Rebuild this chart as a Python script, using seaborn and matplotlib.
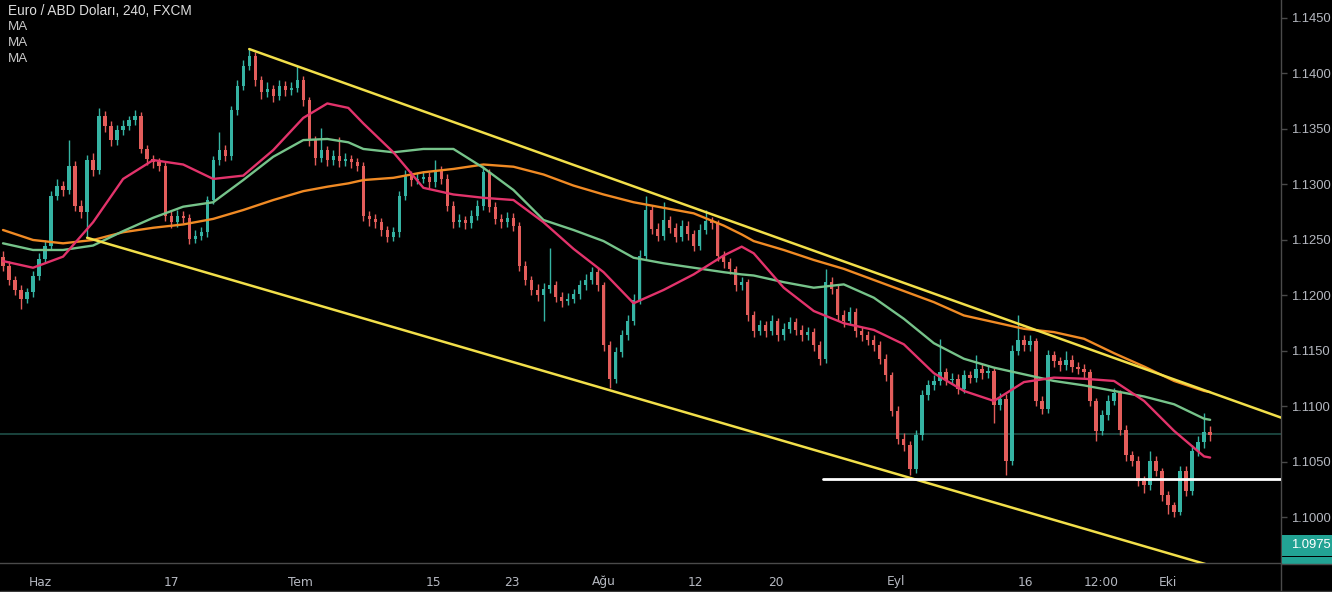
import numpy as np
import pandas as pd
import matplotlib
matplotlib.use("Agg")
import matplotlib.pyplot as plt
from matplotlib.patches import Rectangle
import seaborn as sns

# ---------------- data ----------------
title = "Euro / ABD Doları, 240, FXCM"
legend_labels = ["MA", "MA", "MA"]

first_open = 1.1235
close = [
    1.1227, 1.1214, 1.1205, 1.1197, 1.1203, 1.1218, 1.1233, 1.1245, 1.1290, 1.1299,
    1.1295, 1.1317, 1.1281, 1.1275, 1.1322, 1.1313, 1.1362, 1.1353, 1.1340, 1.1349,
    1.1353, 1.1358, 1.1362, 1.1332, 1.1323, 1.1320, 1.1317, 1.1272, 1.1266, 1.1272,
    1.1270, 1.1251, 1.1254, 1.1257, 1.1286, 1.1322, 1.1331, 1.1326, 1.1367, 1.1389,
    1.1407, 1.1416, 1.1394, 1.1383, 1.1386, 1.1380, 1.1389, 1.1385, 1.1387, 1.1394,
    1.1376, 1.1340, 1.1324, 1.1331, 1.1322, 1.1326, 1.1321, 1.1323, 1.1320, 1.1317,
    1.1272, 1.1269, 1.1266, 1.1259, 1.1253, 1.1257, 1.1290, 1.1308, 1.1304, 1.1305,
    1.1307, 1.1302, 1.1313, 1.1305, 1.1281, 1.1266, 1.1268, 1.1265, 1.1272, 1.1281,
    1.1311, 1.1280, 1.1269, 1.1266, 1.1270, 1.1263, 1.1227, 1.1214, 1.1205, 1.1200,
    1.1206, 1.1209, 1.1199, 1.1195, 1.1197, 1.1201, 1.1209, 1.1214, 1.1221, 1.1209,
    1.1155, 1.1125, 1.1149, 1.1164, 1.1177, 1.1196, 1.1236, 1.1277, 1.1260, 1.1254,
    1.1268, 1.1261, 1.1253, 1.1263, 1.1255, 1.1245, 1.1259, 1.1267, 1.1265, 1.1236,
    1.1230, 1.1224, 1.1209, 1.1212, 1.1182, 1.1168, 1.1173, 1.1168, 1.1177, 1.1164,
    1.1170, 1.1176, 1.1169, 1.1164, 1.1167, 1.1155, 1.1143, 1.1212, 1.1206, 1.1182,
    1.1177, 1.1185, 1.1168, 1.1164, 1.1160, 1.1155, 1.1143, 1.1128, 1.1096, 1.1071,
    1.1065, 1.1044, 1.1074, 1.1110, 1.1119, 1.1123, 1.1131, 1.1124, 1.1125, 1.1116,
    1.1128, 1.1126, 1.1134, 1.1130, 1.1132, 1.1101, 1.1107, 1.1051, 1.1150, 1.1160,
    1.1155, 1.1159, 1.1105, 1.1098, 1.1146, 1.1141, 1.1137, 1.1142, 1.1136, 1.1134,
    1.1131, 1.1105, 1.1078, 1.1092, 1.1105, 1.1112, 1.1079, 1.1056, 1.1051, 1.1033,
    1.1029, 1.1051, 1.1042, 1.1020, 1.1011, 1.1005, 1.1042, 1.1024, 1.1060, 1.1068,
    1.1077, 1.1074,
]
high = [
    1.1240, 1.1231, 1.1218, 1.1209, 1.1207, 1.1222, 1.1238, 1.1250, 1.1294, 1.1305,
    1.1303, 1.1340, 1.1321, 1.1286, 1.1327, 1.1328, 1.1369, 1.1366, 1.1357, 1.1354,
    1.1358, 1.1362, 1.1367, 1.1365, 1.1336, 1.1327, 1.1324, 1.1320, 1.1276, 1.1277,
    1.1276, 1.1273, 1.1259, 1.1262, 1.1290, 1.1326, 1.1347, 1.1336, 1.1371, 1.1394,
    1.1412, 1.1423, 1.1419, 1.1398, 1.1392, 1.1390, 1.1394, 1.1393, 1.1392, 1.1407,
    1.1398, 1.1379, 1.1344, 1.1351, 1.1335, 1.1331, 1.1343, 1.1328, 1.1327, 1.1324,
    1.1320, 1.1276, 1.1273, 1.1270, 1.1263, 1.1262, 1.1294, 1.1313, 1.1312, 1.1310,
    1.1312, 1.1311, 1.1322, 1.1317, 1.1309, 1.1285, 1.1273, 1.1272, 1.1277, 1.1286,
    1.1317, 1.1314, 1.1284, 1.1273, 1.1275, 1.1274, 1.1266, 1.1231, 1.1218, 1.1210,
    1.1211, 1.1243, 1.1213, 1.1203, 1.1202, 1.1206, 1.1214, 1.1219, 1.1226, 1.1225,
    1.1212, 1.1159, 1.1154, 1.1169, 1.1182, 1.1201, 1.1241, 1.1290, 1.1281, 1.1265,
    1.1284, 1.1272, 1.1265, 1.1268, 1.1267, 1.1259, 1.1264, 1.1277, 1.1271, 1.1268,
    1.1240, 1.1234, 1.1227, 1.1217, 1.1215, 1.1186, 1.1178, 1.1177, 1.1182, 1.1180,
    1.1175, 1.1181, 1.1180, 1.1173, 1.1172, 1.1171, 1.1159, 1.1224, 1.1217, 1.1210,
    1.1187, 1.1190, 1.1189, 1.1172, 1.1168, 1.1164, 1.1159, 1.1147, 1.1131, 1.1100,
    1.1076, 1.1069, 1.1079, 1.1115, 1.1124, 1.1128, 1.1161, 1.1135, 1.1130, 1.1129,
    1.1133, 1.1132, 1.1146, 1.1138, 1.1137, 1.1135, 1.1112, 1.1111, 1.1155, 1.1182,
    1.1164, 1.1164, 1.1162, 1.1109, 1.1151, 1.1150, 1.1145, 1.1150, 1.1146, 1.1140,
    1.1138, 1.1134, 1.1108, 1.1097, 1.1110, 1.1117, 1.1115, 1.1083, 1.1060, 1.1055,
    1.1037, 1.1060, 1.1055, 1.1045, 1.1024, 1.1014, 1.1046, 1.1046, 1.1065, 1.1073,
    1.1094, 1.1082,
]
low = [
    1.1222, 1.1209, 1.1200, 1.1188, 1.1193, 1.1199, 1.1214, 1.1229, 1.1241, 1.1286,
    1.1290, 1.1291, 1.1276, 1.1270, 1.1252, 1.1308, 1.1309, 1.1347, 1.1335, 1.1336,
    1.1345, 1.1349, 1.1354, 1.1328, 1.1318, 1.1315, 1.1312, 1.1267, 1.1261, 1.1262,
    1.1265, 1.1246, 1.1247, 1.1250, 1.1253, 1.1282, 1.1318, 1.1321, 1.1322, 1.1363,
    1.1385, 1.1403, 1.1389, 1.1377, 1.1379, 1.1374, 1.1376, 1.1380, 1.1381, 1.1383,
    1.1371, 1.1335, 1.1318, 1.1320, 1.1317, 1.1318, 1.1316, 1.1317, 1.1315, 1.1312,
    1.1267, 1.1263, 1.1261, 1.1254, 1.1248, 1.1249, 1.1253, 1.1286, 1.1299, 1.1300,
    1.1301, 1.1297, 1.1298, 1.1300, 1.1276, 1.1261, 1.1262, 1.1260, 1.1261, 1.1268,
    1.1277, 1.1275, 1.1264, 1.1261, 1.1262, 1.1258, 1.1222, 1.1209, 1.1200, 1.1195,
    1.1177, 1.1202, 1.1194, 1.1190, 1.1191, 1.1193, 1.1197, 1.1205, 1.1210, 1.1204,
    1.1150, 1.1117, 1.1121, 1.1145, 1.1160, 1.1173, 1.1192, 1.1232, 1.1255, 1.1249,
    1.1250, 1.1256, 1.1248, 1.1249, 1.1250, 1.1240, 1.1241, 1.1255, 1.1260, 1.1231,
    1.1225, 1.1219, 1.1204, 1.1205, 1.1177, 1.1163, 1.1164, 1.1163, 1.1164, 1.1159,
    1.1160, 1.1166, 1.1164, 1.1159, 1.1160, 1.1150, 1.1137, 1.1139, 1.1201, 1.1177,
    1.1172, 1.1173, 1.1163, 1.1159, 1.1155, 1.1150, 1.1138, 1.1123, 1.1091, 1.1066,
    1.1060, 1.1038, 1.1040, 1.1070, 1.1106, 1.1115, 1.1119, 1.1119, 1.1120, 1.1111,
    1.1112, 1.1121, 1.1122, 1.1125, 1.1126, 1.1085, 1.1097, 1.1038, 1.1047, 1.1146,
    1.1150, 1.1150, 1.1100, 1.1093, 1.1094, 1.1136, 1.1132, 1.1133, 1.1131, 1.1129,
    1.1126, 1.1100, 1.1069, 1.1074, 1.1088, 1.1101, 1.1074, 1.1051, 1.1046, 1.1028,
    1.1022, 1.1025, 1.1037, 1.1015, 1.1003, 1.1000, 1.1002, 1.1019, 1.1020, 1.1055,
    1.1063, 1.1069,
]

# moving averages at these candle indices
ma_idx = [0, 5, 10, 15, 20, 25, 30, 35, 40, 45,
          50, 54, 57.5, 60, 65, 70, 75, 80, 85, 90,
          95, 100, 105, 110, 115, 120, 123, 125, 130, 135,
          140, 145, 150, 155, 160, 165, 170, 175, 180, 185,
          190, 195, 200, 201]
ma_fast = [1.1231, 1.1225, 1.1235, 1.1266, 1.1305, 1.1322, 1.1318, 1.1305, 1.1308, 1.1331,
           1.1360, 1.1373, 1.1369, 1.1355, 1.1329, 1.1297, 1.1291, 1.1288, 1.1286, 1.1266,
           1.1242, 1.1221, 1.1193, 1.1205, 1.1219, 1.1236, 1.1244, 1.1238, 1.1207, 1.1186,
           1.1175, 1.1169, 1.1156, 1.1130, 1.1114, 1.1105, 1.1122, 1.1126, 1.1125, 1.1123,
           1.1105, 1.1078, 1.1055, 1.1054]
ma_mid = [1.1247, 1.1241, 1.1241, 1.1245, 1.1258, 1.1270, 1.1280, 1.1284, 1.1304, 1.1325,
          1.1340, 1.1341, 1.1338, 1.1332, 1.1329, 1.1332, 1.1332, 1.1315, 1.1295, 1.1268,
          1.1259, 1.1249, 1.1234, 1.1229, 1.1225, 1.1221, 1.1219, 1.1218, 1.1212, 1.1207,
          1.1210, 1.1198, 1.1179, 1.1157, 1.1143, 1.1135, 1.1129, 1.1123, 1.1119, 1.1114,
          1.1109, 1.1102, 1.1089, 1.1088]
ma_slow = [1.1259, 1.1250, 1.1247, 1.1250, 1.1257, 1.1261, 1.1264, 1.1269, 1.1277, 1.1286,
           1.1294, 1.1298, 1.1301, 1.1304, 1.1306, 1.1311, 1.1314, 1.1318, 1.1316, 1.1309,
           1.1299, 1.1291, 1.1284, 1.1279, 1.1274, 1.1263, 1.1255, 1.1249, 1.1241, 1.1232,
           1.1224, 1.1214, 1.1204, 1.1194, 1.1182, 1.1176, 1.1170, 1.1167, 1.1161, 1.1148,
           1.1136, 1.1123, 1.1114, 1.1113]

# drawn trend lines (candle index, price)
upper_trend_x = [41, 212.8]
upper_trend_y = [1.1422, 1.1090]
lower_trend_x = [14, 201.5]
lower_trend_y = [1.1252, 1.0956]
support_x = [136.5, 212.8]
support_y = [1.1035, 1.1035]

last_price = 1.1075
tag_price = 1.0975
tag_text = "1.0975"
timer_text = "02:25:21"

xtick_pos = [6.2, 28, 49.5, 71.7, 84.7, 100, 115.3, 128.7, 148.7, 170.2, 182.8, 194]
xtick_labels = ["Haz", "17", "Tem", "15", "23", "Ağu", "12", "20", "Eyl", "16", "12:00", "Eki"]
ytick_vals = [1.1000, 1.1050, 1.1100, 1.1150, 1.1200, 1.1250, 1.1300, 1.1350, 1.1400, 1.1450]

# ---------------- style ----------------
sns.set_theme(style="dark", rc={
    "axes.facecolor": "black", "figure.facecolor": "black",
    "axes.grid": False, "savefig.facecolor": "black",
})
plt.rcParams["font.family"] = ["Liberation Sans", "DejaVu Sans"]

UP = "#35b3a3"
DOWN = "#e35d5b"
TXT = "#b5b8c0"
AXC = "#4a4a4a"

fig = plt.figure(figsize=(13.32, 5.92), dpi=100)
ax = fig.add_axes([0, 29 / 592, 1281 / 1332, 563 / 592])
ax.set_facecolor("black")

df = pd.DataFrame({"close": close, "high": high, "low": low})
df["open"] = [first_open] + close[:-1]
df["idx"] = np.arange(len(df))
df["top"] = df[["open", "close"]].max(axis=1)
df["bot"] = df[["open", "close"]].min(axis=1)
df["high"] = np.maximum(df["high"], df["top"])
df["low"] = np.minimum(df["low"], df["bot"])
df["up"] = df["close"] >= df["open"]
colors = np.where(df["up"], UP, DOWN)

# current price line
ax.axhline(last_price, color="#1f4f47", lw=1.2, zorder=1)

# candles
ax.vlines(df["idx"], df["low"], df["high"], colors=colors, lw=1.0, zorder=3)
ax.bar(df["idx"], np.maximum(df["top"] - df["bot"], 0.00006), bottom=df["bot"],
       width=0.55, color=colors, linewidth=0, zorder=3)

# moving averages
ma_df = pd.DataFrame({"idx": ma_idx, "fast": ma_fast, "mid": ma_mid, "slow": ma_slow})
sns.lineplot(data=ma_df, x="idx", y="slow", color="#f08a24", lw=1.7, ax=ax, zorder=4)
sns.lineplot(data=ma_df, x="idx", y="mid", color="#76c38a", lw=1.7, ax=ax, zorder=4)
sns.lineplot(data=ma_df, x="idx", y="fast", color="#e2336b", lw=1.7, ax=ax, zorder=4)

# trend lines
sns.lineplot(x=upper_trend_x, y=upper_trend_y, color="#f2df4a", lw=1.8, ax=ax, zorder=5)
sns.lineplot(x=lower_trend_x, y=lower_trend_y, color="#f2df4a", lw=1.8, ax=ax, zorder=5)
sns.lineplot(x=support_x, y=support_y, color="#ffffff", lw=2.0, ax=ax, zorder=5)

ax.set_xlim(-0.5, 212.8)
ax.set_ylim(1.0959, 1.14662)
ax.set_xlabel("")
ax.set_ylabel("")

# axes styling
for s in ["top", "left"]:
    ax.spines[s].set_visible(False)
for s in ["right", "bottom"]:
    ax.spines[s].set_color(AXC)
    ax.spines[s].set_linewidth(1.0)

ax.yaxis.tick_right()
ax.set_yticks(ytick_vals)
ax.set_yticklabels([f"{v:.4f}" for v in ytick_vals])
ax.tick_params(axis="y", colors=AXC, labelcolor=TXT, length=4, width=1, pad=3,
               labelsize=9.4, direction="out")
ax.set_xticks(xtick_pos)
ax.set_xticklabels(xtick_labels, family=["Liberation Sans Narrow", "DejaVu Sans"])
ax.tick_params(axis="x", colors=AXC, labelcolor=TXT, length=3, width=1, pad=6,
               labelsize=8.8, direction="out")

# price tag + timer on the right scale
ytr = ax.get_yaxis_transform()
ax.add_patch(Rectangle((1.0005, tag_price - 0.00095), 0.06, 0.0019, transform=ytr,
                       facecolor="#22a394", edgecolor="none", clip_on=False, zorder=6))
ax.text(1.0075, tag_price, tag_text, transform=ytr, color="white", fontsize=9.4,
        va="center", ha="left", clip_on=False, zorder=7)
ax.add_patch(Rectangle((1.0005, tag_price - 0.0032), 0.06, 0.0021, transform=ytr,
                       facecolor="#22a394", edgecolor="none", clip_on=False, zorder=6))
ax.text(1.0075, tag_price - 0.00215, timer_text, transform=ytr, color="white", fontsize=8.0,
        va="center", ha="left", clip_on=False, zorder=7)
# cover the time scale strip under the price scale
fig.add_artist(Rectangle((1281 / 1332, 0), 51 / 1332, 28 / 592, transform=fig.transFigure,
                         facecolor="black", edgecolor="none", zorder=8))
fig.add_artist(plt.Line2D([1281 / 1332, 1], [28.5 / 592, 28.5 / 592], transform=fig.transFigure,
                          color=AXC, lw=1.0, zorder=9))
fig.add_artist(plt.Line2D([1281 / 1332, 1281 / 1332], [0, 29 / 592], transform=fig.transFigure,
                          color=AXC, lw=1.0, zorder=9))
fig.add_artist(plt.Line2D([0, 1], [1.5 / 592, 1.5 / 592], transform=fig.transFigure,
                          color="#3a3a3a", lw=1.0, zorder=9))

# legend texts top-left
fig.text(8 / 1332, 1 - 11 / 592, title, color="#dcdcdc", fontsize=9.8, va="center", ha="left")
for k, lab in enumerate(legend_labels):
    fig.text(8 / 1332, 1 - (27 + 16 * k) / 592, lab, color="#c8c8c8", fontsize=9.6,
             va="center", ha="left")

fig.savefig("out.png", dpi=100, facecolor="black")
